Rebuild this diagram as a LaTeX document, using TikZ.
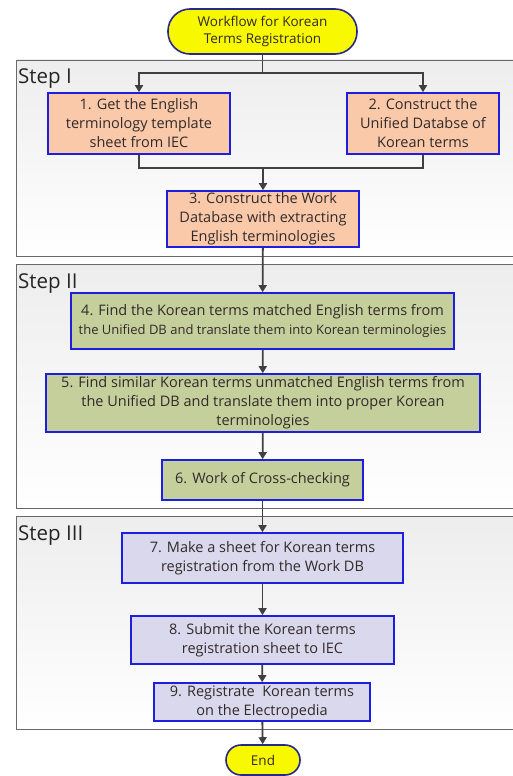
\documentclass[tikz,border=0pt]{standalone}
\usepackage{fontspec}
\setmainfont{Open Sans}
\usetikzlibrary{arrows.meta}
\definecolor{boxblue}{RGB}{30,30,225}
\definecolor{termnavy}{RGB}{40,40,140}
\definecolor{termyellow}{RGB}{248,248,0}
\definecolor{peach}{RGB}{250,201,170}
\definecolor{sage}{RGB}{197,207,156}
\definecolor{lilac}{RGB}{218,216,236}
\definecolor{flowgray}{RGB}{64,64,64}
\definecolor{panelgray}{RGB}{105,105,105}
\definecolor{inkgray}{RGB}{50,42,42}
\begin{document}
\begin{tikzpicture}[x=1pt,y=-1pt,>={Triangle[width=8pt,length=7pt]},
  box/.style={draw=boxblue,line width=1.6pt,align=center,inner sep=0pt,text=inkgray,font=\fontsize{14.5}{19}\selectfont},
  stepone/.style={box,fill=peach},
  steptwo/.style={box,fill=sage},
  stepthree/.style={box,fill=lilac},
  term/.style={draw=termnavy,line width=1.6pt,fill=termyellow,align=center,inner sep=0pt,text=inkgray,font=\fontsize{13.5}{17}\selectfont},
  panel/.style={draw=panelgray,line width=0.8pt,top color=black!7,bottom color=white},
  steplabel/.style={anchor=base west,inner sep=0pt,text=black!85,font=\fontsize{20.5}{22}\selectfont},
  flow/.style={draw=flowgray,line width=1.8pt}]
\path[fill=white] (0,0) rectangle (513,776);
\useasboundingbox (0,0) rectangle (513,776);

\path[panel] (16,60) rectangle (514,256);
\path[panel] (16,264) rectangle (514,508);
\path[panel] (16,516) rectangle (514,729);
\node[steplabel] (lab1) at (18,84) {Step I};
\node[steplabel] (lab2) at (18,288) {Step II};
\node[steplabel] (lab3) at (18,540) {Step III};

\node[term,minimum width=189pt,minimum height=45pt,rounded corners=22pt] (start) at (262.5,31.5) {Workflow for Korean\\Terms Registration};

\node[stepone,minimum width=182pt,minimum height=61pt] (get) at (139,123.5) {1. Get the English\\terminology template\\sheet from IEC};
\node[stepone,minimum width=152pt,minimum height=61pt] (unified) at (423,123.5) {2. Construct the\\Unified Databse of\\Korean terms};
\node[stepone,minimum width=192pt,minimum height=56pt] (workdb) at (263,219) {3. Construct the Work\\Database with extracting\\English terminologies};

\node[steptwo,minimum width=383pt,minimum height=56pt] (matched) at (262.5,321) {4. Find the Korean terms matched English terms from\\{\fontsize{13}{19}\selectfont the Unified DB and translate them into Korean terminologies}};
\node[steptwo,minimum width=434pt,minimum height=58pt] (similar) at (263,403) {5. Find similar Korean terms unmatched English terms from\\the Unified DB and translate them into proper Korean\\terminologies};
\node[steptwo,minimum width=201pt,minimum height=40pt] (cross) at (262.5,480) {6. Work of Cross-checking};

\node[stepthree,minimum width=281pt,minimum height=50pt] (sheet) at (262.5,558) {7. Make a sheet for Korean terms\\registration from the Work DB};
\node[stepthree,minimum width=263pt,minimum height=48pt] (submit) at (262.5,640) {8. Submit the Korean terms\\registration sheet to IEC};
\node[stepthree,minimum width=216pt,minimum height=38pt] (regist) at (262,702) {9. Registrate\ \ Korean terms\\on the Electropedia};

\node[term,minimum width=74pt,minimum height=30pt,rounded corners=15pt] (end) at (263,760) {End};

\coordinate (split) at (262.5,73);
\coordinate (merge) at (263,168);
\draw[flow] (start) -- (split);
\draw[flow,->] (split) -| (get);
\draw[flow,->] (split) -| (unified);
\draw[flow] (get) |- (merge);
\draw[flow] (unified) |- (merge);
\draw[flow,->] (merge) -- (workdb);
\draw[flow,->] (workdb) -- (matched);
\draw[flow,->] (matched) -- (similar);
\draw[flow,->] (similar) -- (cross);
\draw[flow,->] (cross) -- (sheet);
\draw[flow,->] (sheet) -- (submit);
\draw[flow,->] (submit) -- (regist);
\draw[flow,->] (regist) -- (end);
\end{tikzpicture}
\end{document}
